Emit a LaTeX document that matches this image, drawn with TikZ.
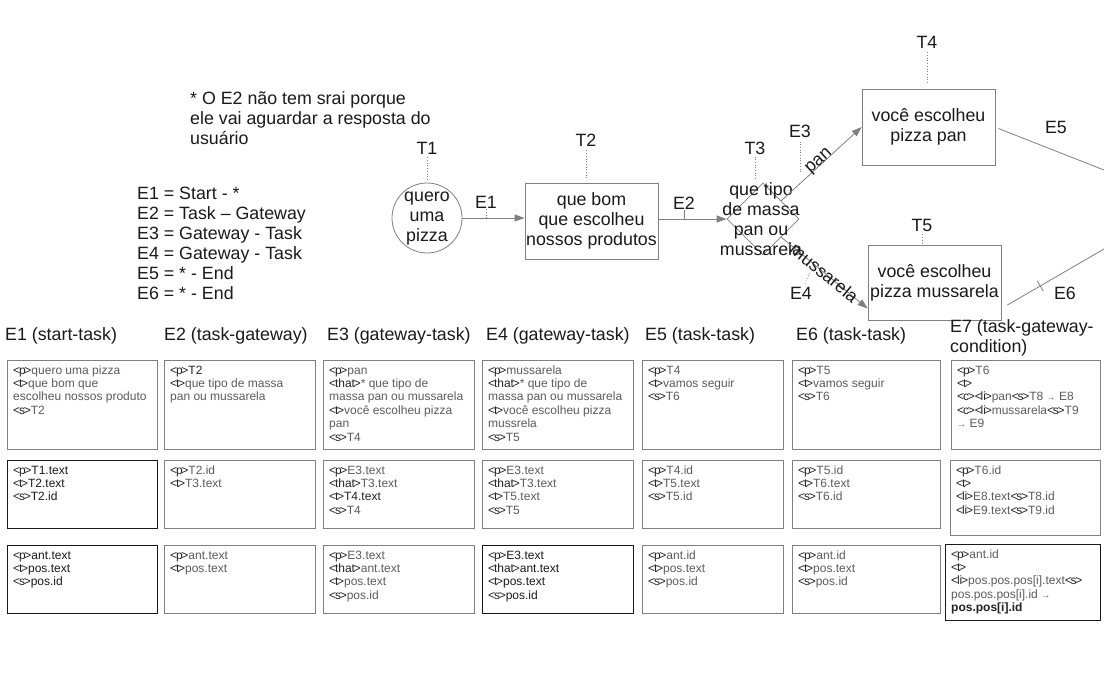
\documentclass[tikz,border=0pt]{standalone}
\usepackage{fontspec}
\setmainfont{Liberation Sans}
\usetikzlibrary{arrows.meta,shapes.geometric}
\definecolor{lnc}{HTML}{808080}
\definecolor{txc}{HTML}{1A1A1A}
\definecolor{bxc}{HTML}{5C5C5C}
\definecolor{tgc}{HTML}{222222}
\newcommand\tg[1]{{\color{tgc}<\kern-1.2pt#1\kern-1.2pt>}}
\newcommand\sarr{{\fontsize{9}{9}\selectfont →}}
\newcommand\mkcell[8]{%
  \node[#6, minimum width=#4pt, minimum height=#5pt] (#1) at (#2,#3) {};
  \node[small, text=#7] (#1t) at ([shift={(6,4.5)}]#1.north west) {\strut #8};
}
\begin{document}
\begin{tikzpicture}[x=1pt,y=-1pt,
  big/.style={font=\fontsize{17.8}{20}\selectfont, text=txc, inner sep=0pt},
  small/.style={font=\fontsize{12}{13.4}\selectfont, inner sep=0pt, anchor=north west, align=left},
  cell/.style={draw=lnc, line width=0.8pt, anchor=north west, inner sep=0pt},
  cellk/.style={cell, draw=black!90, line width=1.3pt},
  conn/.style={draw=lnc, line width=0.8pt},
  arr/.style={conn, -{Triangle[length=10pt,width=7pt]}},
  dots/.style={draw=lnc, dotted, line width=0.7pt},
  shape box/.style={draw=lnc, line width=0.8pt, inner sep=0pt, align=center, big}]
\useasboundingbox (0,0) rectangle (1104,681);
\fill[white] (0,0) rectangle (1104,681);

% notes
\node[big, anchor=north west, align=left] (note) at (190,91.5) {* O E2 não tem srai porque\\ele vai aguardar a resposta do\\usuário};
\node[big, anchor=north west, align=left] (elist) at (137,186.5) {E1 = Start - *\\E2 = Task – Gateway\\E3 = Gateway - Task\\E4 = Gateway - Task\\E5 = * - End\\E6 = * - End};

% flow nodes
\node[circle, draw=lnc, line width=0.8pt, minimum size=70pt, inner sep=0pt] (t1) at (427,218) {};
\node[big, align=center] (t1txt) at (427,219) {quero\\uma\\pizza};
\node[shape box, minimum width=133pt, minimum height=76pt] (t2) at (591.5,221) {que bom\\que escolheu\\nossos produtos};
\node[diamond, draw=lnc, line width=0.8pt, minimum width=72pt, minimum height=72pt, inner sep=0pt] (t3) at (763,219) {};
\node[big, align=center] (t3txt) at (761,219) {que tipo\\de massa\\pan ou\\mussarela};
\node[shape box, minimum width=133pt, minimum height=76pt] (t4) at (928.5,127) {você escolheu\\pizza pan};
\node[shape box, minimum width=133pt, minimum height=75pt] (t5) at (934.5,282.5) {você escolheu\\pizza mussarela};

% T labels
\node[big] (t1l) at (427,148) {T1};
\node[big] (t2l) at (586,140) {T2};
\node[big] (t3l) at (755,148) {T3};
\node[big] (t4l) at (927,42) {T4};
\node[big] (t5l) at (922,225) {T5};
\draw[dots] ([yshift=-3pt]t1l.south) -- ([yshift=3pt]t1.north);
\draw[dots] ([yshift=-4pt]t2l.south) -- ([yshift=4pt]t2l.south |- t2.north);
\draw[dots] ([yshift=-2pt]t3l.south) -- ([yshift=3pt]t3l.south |- t3.north);
\draw[dots] ([yshift=-4pt]t4l.south) -- ([yshift=5pt]t4l.south |- t4.north);
\draw[dots] ([yshift=-3pt]t5l.south) -- ([yshift=1pt]t5l.south |- t5.north);

% connectors
\draw[arr] (t1.east) -- (t1.east -| t2.west);
\draw[arr] (t3.west -| t2.east) -- (t3.west);
\draw[arr] (t3.north east) -- node[big, sloped, anchor=base] (panl) {pan} (t4.west);
\draw[arr] (t3.south east) -- node[big, sloped, anchor=center] (musl) {mussarela} ([yshift=-26pt]t5.west);
\coordinate (e5end) at (1104,170);
\coordinate (e6end) at (1104,249);
\draw[conn] ([xshift=3pt,yshift=-1.5pt]t4.east) -- (e5end);
\draw[conn] ([shift={(6,22.5)}]t5.east) -- coordinate[pos=0.34] (e6tick) (e6end);
\draw[conn] ([shift={(-3,-5.2)}]e6tick) -- ([shift={(3,5.2)}]e6tick);

% E labels
\node[big] (e1) at (486,202) {E1};
\node[big] (e2) at (684,203) {E2};
\node[big] (e3) at (800,131) {E3};
\node[big] (e4) at (801,293) {E4};
\node[big] (e5) at (1056,127) {E5};
\node[big] (e6) at (1065,293) {E6};
\draw[dots] ([yshift=-1pt]e1.south) -- (e1.south |- t1.east);
\draw[conn, line width=0.6pt] ([yshift=-1pt]e2.south) -- (e2.south |- t3.west);
\coordinate (e3end) at (800,172);
\draw[dots] ([yshift=-4pt]e3.south) -- (e3end);
\coordinate (e4end) at (810,272);
\draw[dots] ([shift={(4,-3)}]e4.north) -- (e4end);

% headers
\node[big, anchor=west] (h1) at (5,336) {E1 (start-task)};
\node[big, anchor=west] (h2) at (164,336) {E2 (task-gateway)};
\node[big, anchor=west] (h3) at (327,336) {E3 (gateway-task)};
\node[big, anchor=west] (h4) at (486,336) {E4 (gateway-task)};
\node[big, anchor=west] (h5) at (645,336) {E5 (task-task)};
\node[big, anchor=west] (h6) at (796,336) {E6 (task-task)};
\node[big, anchor=north west, align=left] (h7) at (950,319) {E7 (task-gateway-\\condition)};

% row 1
\mkcell{c11}{7}{360}{150}{89}{cell}{bxc}{\tg{p}quero uma pizza\\\tg{t}que bom que\\escolheu nossos produto\\\tg{s}T2}
\mkcell{c21}{164}{360}{151}{89}{cell}{bxc}{\tg{p}{\color{tgc}T2}\\\tg{t}que tipo de massa\\pan ou mussarela}
\mkcell{c31}{323}{360}{151}{89}{cell}{bxc}{\tg{p}pan\\\tg{that}* que tipo de\\massa pan ou mussarela\\\tg{t}você escolheu pizza\\pan\\\tg{s}T4}
\mkcell{c41}{482}{360}{151}{89}{cell}{bxc}{\tg{p}mussarela\\\tg{that}* que tipo de\\massa pan ou mussarela\\\tg{t}você escolheu pizza\\mussrela\\\tg{s}T5}
\mkcell{c51}{642}{360}{141}{89}{cell}{bxc}{\tg{p}T4\\\tg{t}vamos seguir\\\tg{s}T6}
\mkcell{c61}{792}{360}{148}{89}{cell}{bxc}{\tg{p}T5\\\tg{t}vamos seguir\\\tg{s}T6}
\mkcell{c71}{951}{360}{149}{89}{cell}{bxc}{\tg{p}T6\\\tg{t}\\\tg{c}\tg{li}pan\tg{s}T8 \sarr\ E8\\\tg{c}\tg{li}mussarela\tg{s}T9\\\sarr\ E9}

% row 2
\mkcell{c12}{7}{460}{150}{68}{cellk}{txc}{\tg{p}T1.text\\\tg{t}T2.text\\\tg{s}T2.id}
\mkcell{c22}{164}{460}{151}{68}{cell}{bxc}{\tg{p}T2.id\\\tg{t}T3.text}
\mkcell{c32}{323}{460}{151}{68}{cell}{bxc}{\tg{p}E3.text\\\tg{that}T3.text\\\tg{t}{\color{tgc}T4.text}\\\tg{s}T4}
\mkcell{c42}{482}{460}{151}{68}{cell}{bxc}{\tg{p}E3.text\\\tg{that}T3.text\\\tg{t}T5.text\\\tg{s}T5}
\mkcell{c52}{642}{460}{141}{68}{cell}{bxc}{\tg{p}T4.id\\\tg{t}T5.text\\\tg{s}T5.id}
\mkcell{c62}{792}{460}{148}{68}{cell}{bxc}{\tg{p}T5.id\\\tg{t}T6.text\\\tg{s}T6.id}
\mkcell{c72}{950}{460}{150}{75}{cell}{bxc}{\tg{p}T6.id\\\tg{t}\\\tg{li}E8.text\tg{s}T8.id\\\tg{li}E9.text\tg{s}T9.id}

% row 3
\mkcell{c13}{7}{545}{150}{68}{cellk}{txc}{\tg{p}ant.text\\\tg{t}pos.text\\\tg{s}pos.id}
\mkcell{c23}{164}{545}{151}{68}{cell}{bxc}{\tg{p}ant.text\\\tg{t}pos.text}
\mkcell{c33}{323}{545}{151}{68}{cell}{bxc}{\tg{p}E3.text\\\tg{that}ant.text\\\tg{t}pos.text\\\tg{s}pos.id}
\mkcell{c43}{482}{545}{151}{68}{cellk}{txc}{\tg{p}E3.text\\\tg{that}ant.text\\\tg{t}pos.text\\\tg{s}pos.id}
\mkcell{c53}{642}{545}{141}{68}{cell}{bxc}{\tg{p}ant.id\\\tg{t}pos.text\\\tg{s}pos.id}
\mkcell{c63}{792}{545}{148}{68}{cell}{bxc}{\tg{p}ant.id\\\tg{t}pos.text\\\tg{s}pos.id}
\mkcell{c73}{945}{544}{155}{76}{cellk}{bxc}{\tg{p}ant.id\\\tg{t}\\\tg{li}pos.pos.pos[i].text\tg{s}\\pos.pos.pos[i].id \sarr\\{\bfseries\color{tgc}pos.pos[i].id}}
\end{tikzpicture}
\end{document}
